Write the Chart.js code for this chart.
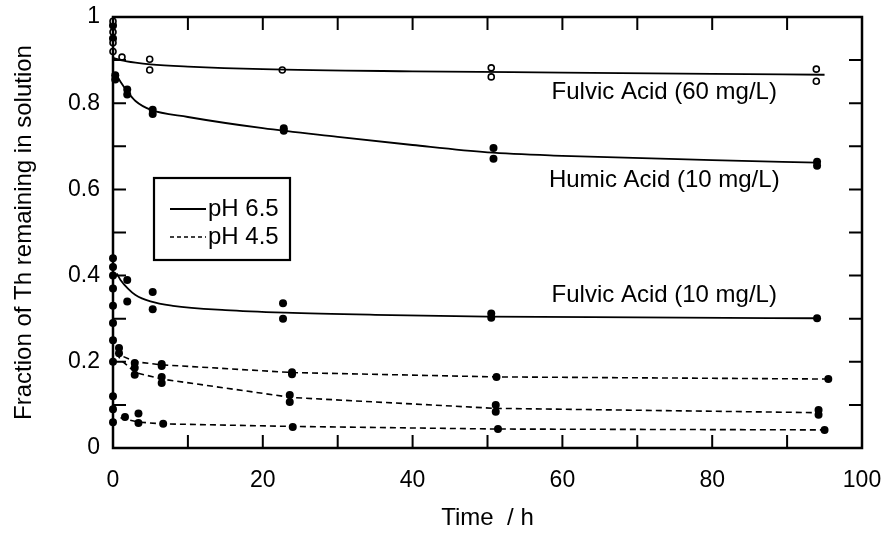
<!DOCTYPE html>
<html>
<head>
<meta charset="utf-8">
<script src="https://cdn.jsdelivr.net/npm/chart.js@4/dist/chart.umd.min.js"></script>
<style>
  html, body { margin: 0; padding: 0; background: #fff; }
  #wrap { width: 884px; height: 533px; }
</style>
</head>
<body>
<div id="wrap"><canvas id="myChart" width="884" height="533"></canvas></div>
<script>
// measured points (time in h, fraction remaining)
const fa60Time = [0, 0, 0, 0, 1.2, 4.9, 4.9, 22.6, 50.5, 50.5, 93.9, 93.9];
const fa60Val  = [0.99, 0.965, 0.94, 0.92, 0.907, 0.902, 0.877, 0.877, 0.882, 0.861, 0.879, 0.851];

const ha10Time = [0, 0, 0.3, 0.3, 1.9, 1.9, 5.3, 5.3, 22.8, 22.8, 50.8, 50.8, 94, 94];
const ha10Val  = [0.98, 0.95, 0.865, 0.855, 0.832, 0.82, 0.785, 0.775, 0.742, 0.736, 0.696, 0.671, 0.664, 0.655];

const fa10Time = [0, 0, 0, 0, 0, 0, 1.9, 1.9, 5.3, 5.3, 22.7, 22.7, 50.5, 50.5, 94];
const fa10Val  = [0.44, 0.42, 0.40, 0.37, 0.33, 0.29, 0.39, 0.34, 0.362, 0.322, 0.336, 0.30, 0.312, 0.302, 0.301];

const lowATime = [0, 0.8, 0.8, 2.9, 6.5, 6.5, 23.9, 23.9, 51.2, 95.5];
const lowAVal  = [0.25, 0.232, 0.22, 0.197, 0.195, 0.19, 0.176, 0.171, 0.165, 0.16];

const lowBTime = [0, 2.9, 2.9, 6.5, 6.5, 23.6, 23.6, 51.1, 51.1, 94.2, 94.2];
const lowBVal  = [0.2, 0.186, 0.17, 0.165, 0.151, 0.123, 0.107, 0.1, 0.084, 0.088, 0.077];

const lowCTime = [0, 0, 0, 1.6, 3.4, 3.4, 6.7, 24, 51.4, 95];
const lowCVal  = [0.12, 0.09, 0.06, 0.072, 0.08, 0.058, 0.056, 0.049, 0.044, 0.042];

// fitted curves
const fa60FitTime = [0, 1, 3, 5, 10, 20, 40, 60, 80, 95];
const fa60FitVal  = [0.905, 0.9, 0.894, 0.89, 0.885, 0.879, 0.874, 0.871, 0.868, 0.866];

const ha10FitTime = [0.3, 1, 2, 3, 5, 10, 20, 30, 40, 50, 60, 80, 94];
const ha10FitVal  = [0.87, 0.85, 0.825, 0.805, 0.785, 0.768, 0.742, 0.722, 0.703, 0.686, 0.678, 0.668, 0.662];

const fa10FitTime = [0.5, 1, 2, 3, 5, 8, 15, 23, 35, 50, 70, 94];
const fa10FitVal  = [0.405, 0.39, 0.37, 0.355, 0.34, 0.33, 0.32, 0.314, 0.309, 0.305, 0.303, 0.301];

const lowAFitTime = [0.5, 1, 3, 6.5, 24, 51, 95.5];
const lowAFitVal  = [0.228, 0.215, 0.2, 0.193, 0.175, 0.165, 0.16];

const lowBFitTime = [0.5, 1, 3, 6.5, 24, 51, 94];
const lowBFitVal  = [0.22, 0.205, 0.175, 0.16, 0.117, 0.092, 0.082];

const lowCFitTime = [1, 3.4, 6.7, 24, 51.4, 95];
const lowCFitVal  = [0.07, 0.06, 0.056, 0.05, 0.044, 0.042];

const annotations = [
  { text: 'Fulvic Acid (60 mg/L)', x: 73.6, y: 0.826 },
  { text: 'Humic Acid (10 mg/L)', x: 73.6, y: 0.62 },
  { text: 'Fulvic Acid (10 mg/L)', x: 73.6, y: 0.353 }
];
const legendItems = ['pH 6.5', 'pH 4.5'];

const FONT = '"Liberation Sans", Arial, sans-serif';

function pts(t, v) {
  return t.map((x, i) => ({ x: x, y: v[i] }));
}

function pointSet(t, v, open) {
  return {
    data: pts(t, v),
    showLine: false,
    pointRadius: open ? 3 : 4,
    pointBackgroundColor: open ? '#fff' : '#000',
    pointBorderColor: '#000',
    pointBorderWidth: open ? 1.6 : 0,
    clip: false
  };
}

function fitSet(t, v, dashed) {
  return {
    data: pts(t, v),
    showLine: true,
    borderColor: '#000',
    borderWidth: dashed ? 1.6 : 1.8,
    borderDash: dashed ? [6, 4] : [],
    cubicInterpolationMode: dashed ? 'default' : 'monotone',
    tension: dashed ? 0 : 0.4,
    pointRadius: 0,
    clip: false
  };
}

const framePlugin = {
  id: 'frame',
  afterDraw(chart) {
    const c = chart.ctx;
    const a = chart.chartArea;
    const xs = chart.scales.x, ys = chart.scales.y;
    c.save();
    c.strokeStyle = '#000';
    c.lineWidth = 2.5;
    c.strokeRect(a.left, a.top, a.right - a.left, a.bottom - a.top);
    c.lineWidth = 2;
    const tl = 13;
    c.beginPath();
    xs.ticks.forEach(tk => {
      if (tk.value <= 0 || tk.value >= 100) return;
      const px = xs.getPixelForValue(tk.value);
      c.moveTo(px, a.bottom); c.lineTo(px, a.bottom - tl);
      c.moveTo(px, a.top); c.lineTo(px, a.top + tl);
    });
    ys.ticks.forEach(tk => {
      if (tk.value <= 0.001 || tk.value >= 0.999) return;
      const py = ys.getPixelForValue(tk.value);
      c.moveTo(a.left, py); c.lineTo(a.left + tl, py);
      c.moveTo(a.right, py); c.lineTo(a.right - tl, py);
    });
    c.stroke();

    // curve labels
    c.fillStyle = '#000';
    c.font = '24px ' + FONT;
    c.textAlign = 'center';
    c.textBaseline = 'middle';
    annotations.forEach(an => {
      c.fillText(an.text, xs.getPixelForValue(an.x), ys.getPixelForValue(an.y));
    });

    // legend box
    const bx = 154, by = 178, bw = 136, bh = 82;
    c.lineWidth = 2.2;
    c.fillStyle = '#fff';
    c.fillRect(bx, by, bw, bh);
    c.strokeRect(bx, by, bw, bh);
    c.fillStyle = '#000';
    c.textAlign = 'left';
    legendItems.forEach((lab, i) => {
      const ly = by + 31 + i * 28;
      c.beginPath();
      c.lineWidth = i === 0 ? 1.8 : 1.6;
      c.setLineDash(i === 0 ? [] : [4, 3]);
      c.moveTo(170, ly); c.lineTo(206, ly);
      c.stroke();
      c.setLineDash([]);
      c.fillText(lab, 208, ly);
    });
    c.restore();
  }
};

const ctx = document.getElementById('myChart');

var chart = new Chart(ctx, {
  type: 'scatter',
  data: {
    datasets: [
      fitSet(fa60FitTime, fa60FitVal, false),
      fitSet(ha10FitTime, ha10FitVal, false),
      fitSet(fa10FitTime, fa10FitVal, false),
      fitSet(lowAFitTime, lowAFitVal, true),
      fitSet(lowBFitTime, lowBFitVal, true),
      fitSet(lowCFitTime, lowCFitVal, true),
      pointSet(fa60Time, fa60Val, true),
      pointSet(ha10Time, ha10Val, false),
      pointSet(fa10Time, fa10Val, false),
      pointSet(lowATime, lowAVal, false),
      pointSet(lowBTime, lowBVal, false),
      pointSet(lowCTime, lowCVal, false)
    ]
  },
  options: {
    responsive: false,
    animation: false,
    layout: { padding: { top: 17, right: 22, left: 0, bottom: 0 } },
    plugins: {
      legend: { display: false },
      tooltip: { enabled: false }
    },
    scales: {
      x: {
        type: 'linear',
        min: 0, max: 100,
        grid: { display: false, drawTicks: false },
        border: { display: false },
        ticks: {
          stepSize: 10,
          padding: 19,
          color: '#000',
          font: { family: FONT, size: 23 },
          maxRotation: 0,
          autoSkip: false,
          callback: v => (Math.round(v) % 20 === 0 ? String(Math.round(v)) : '')
        },
        title: {
          display: true,
          text: 'Time  / h',
          color: '#000',
          font: { family: FONT, size: 24 },
          padding: { top: 0, bottom: 0 }
        },
        afterFit: s => {
          s.height = 85;
          s.paddingLeft = 0;
          s.paddingRight = 0;
        }
      },
      y: {
        min: 0, max: 1,
        grid: { display: false, drawTicks: false },
        border: { display: false },
        ticks: {
          stepSize: 0.1,
          padding: 13,
          color: '#000',
          font: { family: FONT, size: 23 },
          autoSkip: false,
          callback: v => {
            const k = Math.round(v * 10);
            return k % 2 === 0 ? String(k / 10) : '';
          }
        },
        title: {
          display: true,
          text: 'Fraction of Th remaining in solution',
          color: '#000',
          font: { family: FONT, size: 24 },
          padding: { top: 10, bottom: 0 }
        },
        afterFit: s => {
          s.width = 113;
          s.paddingTop = 0;
          s.paddingBottom = 0;
        }
      }
    }
  },
  plugins: [framePlugin]
});
</script>
</body>
</html>
